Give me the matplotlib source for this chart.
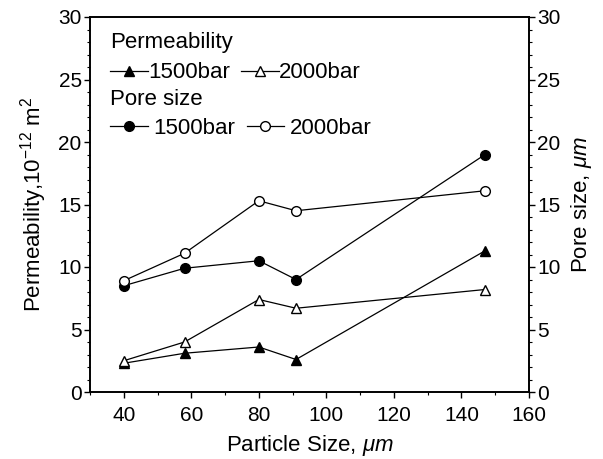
import matplotlib
matplotlib.use("Agg")
import matplotlib.pyplot as plt
from matplotlib.ticker import MultipleLocator

plt.rcParams['font.family'] = ['Liberation Sans', 'DejaVu Sans']
plt.rcParams['mathtext.fontset'] = 'custom'
plt.rcParams['mathtext.rm'] = 'Liberation Sans'
plt.rcParams['mathtext.it'] = 'Liberation Sans:italic'

particle_size = [40, 58, 80, 91, 147]
perm_1500 = [2.3, 3.1, 3.6, 2.6, 11.3]
perm_2000 = [2.5, 4.0, 7.4, 6.7, 8.2]
pore_1500 = [8.5, 9.9, 10.5, 9.0, 19.0]
pore_2000 = [8.9, 11.1, 15.3, 14.5, 16.1]

x_ticks = [40, 60, 80, 100, 120, 140, 160]
y_ticks = [0, 5, 10, 15, 20, 25, 30]

fig = plt.figure(figsize=(6.03, 4.59), dpi=100)
ax = fig.add_axes([90/603, 1-392/459, (529-90)/603, (392-17)/459])
ax2 = ax.twinx()

lw = 0.9
ms = 7
l1, = ax.plot(particle_size, perm_1500, '-', color='black', lw=lw, marker='^', ms=ms,
              mfc='black', mec='black')
l2, = ax.plot(particle_size, perm_2000, '-', color='black', lw=lw, marker='^', ms=ms,
              mfc='white', mec='black')
l3, = ax2.plot(particle_size, pore_1500, '-', color='black', lw=lw, marker='o', ms=ms,
               mfc='black', mec='black')
l4, = ax2.plot(particle_size, pore_2000, '-', color='black', lw=lw, marker='o', ms=ms,
               mfc='white', mec='black')

for a in (ax, ax2):
    a.set_xlim(30, 160)
    a.set_ylim(0, 30)
    a.set_yticks(y_ticks)
    a.yaxis.set_minor_locator(MultipleLocator(1))
    a.tick_params(axis='both', which='major', direction='out', length=4, width=1,
                  labelsize=15, pad=2)
    a.tick_params(axis='both', which='minor', direction='out', length=2, width=0.8)
    for s in a.spines.values():
        s.set_linewidth(1.2)

ax.set_xticks(x_ticks)
ax.xaxis.set_minor_locator(MultipleLocator(10))
ax.tick_params(axis='x', which='major', pad=6)
ax.set_xlabel('Particle Size, $\\mathit{\\mu m}$', fontsize=16, labelpad=6)
ax.set_ylabel('Permeability,10$^{-12}$ m$^2$', fontsize=16, labelpad=7)
ax2.set_ylabel('Pore size, $\\mathit{\\mu m}$', fontsize=16, labelpad=6)

x0 = 0.046
ax.text(x0, 0.931, 'Permeability', transform=ax.transAxes, fontsize=16,
        ha='left', va='center')
ax.text(x0, 0.779, 'Pore size', transform=ax.transAxes, fontsize=16,
        ha='left', va='center')

leg_kw = dict(frameon=False, ncol=2, fontsize=16, handlelength=1.7,
              borderaxespad=0.0, borderpad=0.0, loc='center left')
leg1 = ax.legend(handles=[l1, l2], labels=['1500bar', '2000bar'],
                 bbox_to_anchor=(x0, 0.851), handletextpad=0.0, columnspacing=0.5,
                 **leg_kw)
ax.add_artist(leg1)
leg2 = ax.legend(handles=[l3, l4], labels=['1500bar', '2000bar'],
                 bbox_to_anchor=(x0, 0.704), handletextpad=0.25, columnspacing=0.5,
                 **leg_kw)

fig.savefig('out.png', dpi=100)
